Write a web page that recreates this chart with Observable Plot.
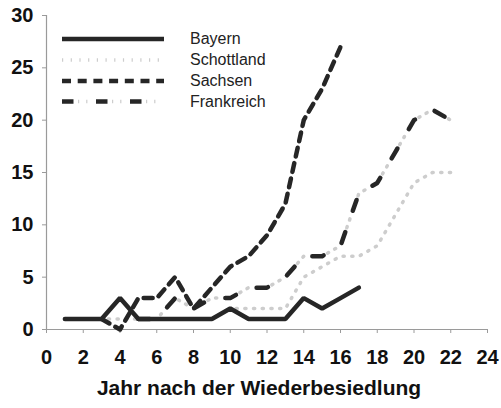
<!DOCTYPE html>
<html>
<head>
<meta charset="utf-8">
<script src="https://cdn.jsdelivr.net/npm/d3@7"></script>
<script src="https://cdn.jsdelivr.net/npm/@observablehq/plot@0.6"></script>
<style>
  html, body { margin: 0; padding: 0; background: #fff; }
  #wrap { position: relative; width: 501px; height: 408px; font-family: "Liberation Sans", Arial, sans-serif; }
  #legend { position: absolute; left: 0; top: 0; }
</style>
</head>
<body>
<div id="wrap"></div>
<script>
// ---- data ----
const seriesNames = ["Bayern", "Schottland", "Sachsen", "Frankreich"];

const bayernYears  = [1, 2, 3, 4, 5, 6, 7, 8, 9, 10, 11, 12, 13, 14, 15, 16, 17];
const bayernValues = [1, 1, 1, 3, 1, 1, 1, 1, 1, 2, 1, 1, 1, 3, 2, 3, 4];

const schottlandYears  = [1, 2, 3, 4, 5, 6, 7, 8, 9, 10, 11, 12, 13, 14, 15, 16, 17, 18, 19, 20, 21, 22];
const schottlandValues = [1, 1, 1, 1, 1, 1, 1, 1, 1, 2, 2, 2, 2, 5, 6, 7, 7, 8, 11, 14, 15, 15];

const sachsenYears  = [3, 4, 5, 6, 7, 8, 9, 10, 11, 12, 13, 14, 15, 16];
const sachsenValues = [1, 0, 3, 3, 5, 2, 4, 6, 7, 9, 12, 20, 23, 27];

const frankreichYears  = [5, 6, 7, 8, 9, 10, 11, 12, 13, 14, 15, 16, 17, 18, 19, 20, 21, 22];
const frankreichValues = [1, 1, 3, 2, 3, 3, 4, 4, 5, 7, 7, 8, 13, 14, 17, 20, 21, 20];

const xTicks = [0, 2, 4, 6, 8, 10, 12, 14, 16, 18, 20, 22, 24];
const yTicks = [0, 5, 10, 15, 20, 25, 30];
const xLabel = "Jahr nach der Wiederbesiedlung";

// ---- build tables ----
const toRows = (name, xs, ys) => xs.map((x, i) => ({series: name, year: x, value: ys[i]}));
const bayern = toRows("Bayern", bayernYears, bayernValues);
const schottland = toRows("Schottland", schottlandYears, schottlandValues);
const sachsen = toRows("Sachsen", sachsenYears, sachsenValues);
const frankreich = toRows("Frankreich", frankreichYears, frankreichValues);

const dark = "#262626";
const grayTick = "#cdcdcd";
const axisGray = "#9a9a9a";

const chart = Plot.plot({
  width: 501,
  height: 408,
  marginLeft: 46,
  marginRight: 14,
  marginTop: 15,
  marginBottom: 79,
  x: {domain: [0, 24]},
  y: {domain: [0, 30]},
  style: {fontFamily: "'Liberation Sans', Arial, sans-serif", background: "#fff", color: "#111"},
  marks: [
    Plot.axisX({ticks: xTicks, tickSize: 4, tickPadding: 16, stroke: axisGray, fill: "#111", fontSize: 20, fontWeight: "bold", label: null}),
    Plot.axisY({ticks: yTicks, tickSize: 4, tickPadding: 9, stroke: axisGray, fill: "#111", fontSize: 20, fontWeight: "bold", label: null}),
    Plot.ruleX([0], {stroke: axisGray, strokeWidth: 1.2}),
    Plot.ruleY([0], {stroke: axisGray, strokeWidth: 1.2}),
    // Schottland: light gray ticks
    Plot.line(schottland, {x: "year", y: "value", stroke: grayTick, strokeWidth: 3.5, strokeDasharray: "1.2 7.5"}),
    // Frankreich: gray ticks + dark dashes
    Plot.line(frankreich, {x: "year", y: "value", stroke: grayTick, strokeWidth: 3.5, strokeDasharray: "0 16 1.2 7 1.2 8.6"}),
    Plot.line(frankreich, {x: "year", y: "value", stroke: dark, strokeWidth: 4.5, strokeDasharray: "11.5 22.5"}),
    // Sachsen: dashes
    Plot.line(sachsen, {x: "year", y: "value", stroke: dark, strokeWidth: 4.5, strokeDasharray: "9 6.7"}),
    // Bayern: solid
    Plot.line(bayern, {x: "year", y: "value", stroke: dark, strokeWidth: 4.5, strokeLinejoin: "miter"}),
    // x axis title
    Plot.text([xLabel], {frameAnchor: "bottom", dy: 65, dx: -8, fontSize: 21, fontWeight: "bold", fill: "#111"})
  ]
});

const wrap = document.getElementById("wrap");
wrap.appendChild(chart);

// ---- legend overlay ----
const legendStyles = {
  "Bayern":     [{stroke: dark, dash: null}],
  "Schottland": [{stroke: grayTick, dash: "1.2 7.5", w: 3.5}],
  "Sachsen":    [{stroke: dark, dash: "9 6.7"}],
  "Frankreich": [{stroke: grayTick, dash: "0 16 1.2 7 1.2 8.6", w: 3.5}, {stroke: dark, dash: "11.5 22.5"}]
};
const legend = d3.select(wrap).append("svg")
  .attr("id", "legend").attr("width", 501).attr("height", 130)
  .style("font-family", "'Liberation Sans', Arial, sans-serif");
const rowY = [39, 60, 81, 101.5];
seriesNames.forEach((name, i) => {
  const g = legend.append("g").attr("transform", `translate(0,${rowY[i]})`);
  legendStyles[name].forEach(s => {
    g.append("line").attr("x1", 62).attr("x2", 164).attr("y1", 0).attr("y2", 0)
      .attr("stroke", s.stroke).attr("stroke-width", s.w || 4.5)
      .attr("stroke-dasharray", s.dash);
  });
  g.append("text").attr("x", 190).attr("y", 5).attr("font-size", 16).attr("fill", "#222").text(name);
});
</script>
</body>
</html>
